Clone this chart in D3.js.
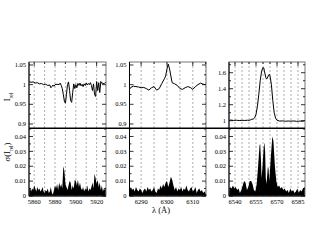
<!DOCTYPE html>
<html>
<head>
<meta charset="utf-8">
<script src="https://cdn.jsdelivr.net/npm/d3@7"></script>
<style>
body { margin: 0; background: #fff; }
text { font-family: "Liberation Serif", "DejaVu Serif", serif; fill: #000; }
</style>
</head>
<body>
<svg id="chart" width="317" height="245"></svg>
<script>
// Na D region
const naWave = [5855,5857,5859,5861,5863,5865,5867,5869,5871,5873,5875,5876,5877,5878,5879,5880,5882,5884,5885,5886,5887,5888,5889,5890,5891,5892,5893,5894,5895,5896,5897,5898,5899,5900,5901,5902,5903,5904,5905,5906,5907,5908,5909,5910,5911,5912,5913,5914,5915,5916,5917,5918,5919,5920,5921,5922,5923,5924,5925,5926,5927,5928,5929]
const naFlux = [1.008,1.006,1.007,1.004,1.005,1.002,1.003,1.000,1.001,0.998,0.999,0.992,0.995,0.999,0.996,1.000,1.001,1.000,1.004,0.998,0.990,0.975,0.958,0.953,0.975,1.000,1.007,0.985,0.960,0.955,0.980,1.002,0.990,1.000,0.992,1.003,0.998,1.004,0.997,1.001,0.995,1.002,0.998,1.004,0.999,1.003,1.000,1.005,0.998,0.985,1.002,0.975,0.970,1.008,0.985,1.005,0.980,1.008,1.003,1.004,1.002,1.005,1.006]
const naSigWave = d3.range(5855, 5930, 1)
const naSig = [0.004,0.006,0.003,0.005,0.004,0.007,0.005,0.003,0.006,0.004,0.005,0.003,0.004,0.006,0.003,0.002,0.004,0.003,0.005,0.002,0.003,0.006,0.002,0.001,0.004,0.007,0.005,0.008,0.004,0.009,0.006,0.008,0.005,0.020,0.017,0.008,0.006,0.004,0.007,0.010,0.009,0.004,0.007,0.005,0.011,0.010,0.007,0.011,0.006,0.009,0.005,0.004,0.006,0.003,0.005,0.004,0.007,0.003,0.005,0.004,0.006,0.009,0.005,0.015,0.012,0.008,0.011,0.006,0.009,0.004,0.007,0.003,0.005,0.004,0.006]

// [O I] 6300 region
const oiWave = [6285.5,6286,6287,6288,6289,6290,6291,6292,6293,6294,6295,6296,6297,6298,6299,6299.5,6300,6300.5,6301,6301.5,6302,6303,6304,6305,6306,6307,6308,6309,6310,6311,6312,6313,6314,6315]
const oiFlux = [0.988,0.993,0.996,0.995,0.994,0.992,0.993,0.990,0.986,0.992,0.995,0.986,0.990,1.003,1.015,1.022,1.040,1.052,1.040,1.022,1.005,1.002,0.998,0.990,0.988,0.992,0.995,0.993,0.988,0.995,1.000,1.004,1.001,1.000]
const oiSigWave = d3.range(6285.5, 6315.01, 0.5)
const oiSig = [0.003,0.006,0.004,0.005,0.003,0.006,0.004,0.003,0.005,0.004,0.002,0.004,0.005,0.003,0.006,0.004,0.005,0.003,0.004,0.006,0.003,0.002,0.005,0.004,0.007,0.005,0.008,0.006,0.009,0.010,0.006,0.009,0.013,0.011,0.007,0.004,0.006,0.003,0.005,0.004,0.006,0.003,0.005,0.004,0.007,0.004,0.003,0.005,0.006,0.003,0.004,0.006,0.002,0.004,0.005,0.003,0.004,0.002,0.003,0.002]

// H alpha region
const haWave = [6535.7,6537,6539,6541,6543,6545,6547,6549,6550,6551,6552,6553,6554,6555,6556,6557,6558,6559,6560,6560.5,6561,6562,6562.5,6563,6564,6564.5,6565,6566,6567,6568,6569,6570,6572,6574,6576,6578,6580,6582,6584,6586,6588,6590]
const haFlux = [1.005,1.008,1.003,1.006,1.002,1.005,1.003,1.006,1.004,1.010,1.018,1.020,1.035,1.08,1.18,1.33,1.50,1.62,1.665,1.66,1.62,1.54,1.52,1.53,1.57,1.58,1.56,1.45,1.25,1.10,1.03,1.005,0.995,0.998,0.993,0.996,0.994,0.997,0.992,0.995,0.993,1.000]
const haSigWave = [6535.7,6536.5,6537.5,6538.5,6539.5,6540.5,6541.5,6542.5,6543.5,6544.5,6545.5,6546.5,6547.5,6548.5,6549.5,6550.5,6551.5,6552.5,6553.5,6554.5,6555.5,6556.5,6557.5,6558,6558.5,6559,6559.5,6560.5,6561,6561.5,6562,6562.5,6563.5,6564,6564.5,6565.5,6566.5,6567,6567.5,6568.5,6569.5,6570.5,6571.5,6572.5,6573.5,6574.5,6575.5,6576.5,6577.5,6578.5,6579.5,6580.5,6581.5,6582.5,6583.5,6584.5,6585.5,6586.5,6587.5,6588.5,6590]
const haSig = [0.003,0.006,0.005,0.007,0.005,0.006,0.004,0.005,0.002,0.004,0.007,0.010,0.009,0.004,0.006,0.010,0.010,0.008,0.004,0.003,0.008,0.020,0.034,0.035,0.025,0.012,0.018,0.033,0.036,0.030,0.012,0.008,0.020,0.018,0.010,0.025,0.038,0.040,0.036,0.020,0.010,0.006,0.007,0.005,0.006,0.004,0.005,0.003,0.004,0.002,0.005,0.003,0.004,0.002,0.003,0.005,0.002,0.004,0.003,0.005,0.006]

const xDomains = [[5855, 5929], [6285.5, 6315.1], [6535.7, 6590]]
const xTickVals = [[5860,5880,5900,5920], [6290,6300,6310], [6540,6555,6570,6585]]
const xGridStep = [10, 5, 5]
const fluxDomains = [[0.889, 1.0576], [0.889, 1.0576], [0.905, 1.734]]
const fluxTicks = [[0.9,0.95,1,1.05], [0.9,0.95,1,1.05], [1,1.2,1.4,1.6]]
const fluxMinor = [0.025, 0.025, 0.1]
const sigTicks = [0, 0.01, 0.02, 0.03, 0.04]

const waves = [naWave, oiWave, haWave]
const fluxes = [naFlux, oiFlux, haFlux]
const sigWaves = [naSigWave, oiSigWave, haSigWave]
const sigs = [naSig, oiSig, haSig]

const svg = d3.select("#chart")
const panelX = [[29, 106], [129.5, 206], [229, 305]]
const topY = 62, midY = 128.3, botY = 196
const fs = "6.5px"

function fmt(v) {
  return v === 0 ? "0" : String(+v.toFixed(3))
}

for (let p = 0; p < 3; p++) {
  const [x0, x1] = panelX[p]
  const x = d3.scaleLinear().domain(xDomains[p]).range([x0, x1])
  const yTop = d3.scaleLinear().domain(fluxDomains[p]).range([midY, topY])
  const yBot = d3.scaleLinear().domain([0, 0.0455]).range([botY, midY])
  const g = svg.append("g")

  // dashed grid
  const grid = d3.range(Math.ceil(xDomains[p][0] / xGridStep[p]) * xGridStep[p], xDomains[p][1], xGridStep[p])
  g.selectAll(".grid").data(grid).enter().append("line")
    .attr("x1", d => x(d)).attr("x2", d => x(d))
    .attr("y1", topY).attr("y2", botY)
    .attr("stroke", "#999").attr("stroke-width", 0.8)
    .attr("stroke-dasharray", "2,2")

  // sigma area
  const sData = sigWaves[p].map((w, i) => [w, sigs[p][i]])
  g.append("path").datum(sData)
    .attr("d", d3.area().x(d => x(d[0])).y0(yBot(0)).y1(d => yBot(d[1])))
    .attr("fill", "#000")

  // flux line
  const fData = waves[p].map((w, i) => [w, fluxes[p][i]])
  g.append("path").datum(fData)
    .attr("d", d3.line().x(d => x(d[0])).y(d => yTop(d[1])))
    .attr("fill", "none").attr("stroke", "#000").attr("stroke-width", 1)

  // frame
  g.append("rect").attr("x", x0).attr("y", topY).attr("width", x1 - x0).attr("height", botY - topY)
    .attr("fill", "none").attr("stroke", "#777").attr("stroke-width", 1)
  g.append("line").attr("x1", x0).attr("x2", x0).attr("y1", topY).attr("y2", botY)
    .attr("stroke", "#000").attr("stroke-width", 1)
  g.append("line").attr("x1", x0).attr("x2", x1).attr("y1", botY).attr("y2", botY)
    .attr("stroke", "#000").attr("stroke-width", 1)

  // y ticks upper
  const upMinor = d3.range(fluxTicks[p][0] - fluxMinor[p], fluxDomains[p][1], fluxMinor[p])
    .filter(v => v > fluxDomains[p][0] && v < fluxDomains[p][1])
  upMinor.forEach(v => {
    const major = fluxTicks[p].some(t => Math.abs(t - v) < 1e-6)
    const len = major ? 4 : 2
    ;[[x0, len], [x1, -len]].forEach(([xx, l]) => {
      g.append("line").attr("x1", xx).attr("x2", xx + l).attr("y1", yTop(v)).attr("y2", yTop(v))
        .attr("stroke", "#000").attr("stroke-width", 0.8)
    })
  })
  g.selectAll(".ylu").data(fluxTicks[p]).enter().append("text")
    .attr("x", x0 - 3).attr("y", d => yTop(d)).attr("dy", "0.33em")
    .attr("text-anchor", "end").style("font-size", fs).text(fmt)

  // y ticks lower
  d3.range(0, 0.0451, 0.005).forEach(v => {
    const major = Math.abs(v / 0.01 - Math.round(v / 0.01)) < 1e-6
    const len = major ? 4 : 2
    ;[[x0, len], [x1, -len]].forEach(([xx, l]) => {
      g.append("line").attr("x1", xx).attr("x2", xx + l).attr("y1", yBot(v)).attr("y2", yBot(v))
        .attr("stroke", "#000").attr("stroke-width", 0.8)
    })
  })
  g.selectAll(".yll").data(sigTicks).enter().append("text")
    .attr("x", x0 - 3).attr("y", d => yBot(d)).attr("dy", "0.33em")
    .attr("text-anchor", "end").style("font-size", fs).text(fmt)

  // x ticks
  grid.forEach(v => {
    const major = xTickVals[p].includes(v)
    const len = major ? 4 : 2
    g.append("line").attr("x1", x(v)).attr("x2", x(v)).attr("y1", botY).attr("y2", botY - len)
      .attr("stroke", "#000").attr("stroke-width", 0.8)
    g.append("line").attr("x1", x(v)).attr("x2", x(v)).attr("y1", topY).attr("y2", topY + len)
      .attr("stroke", "#000").attr("stroke-width", 0.8)
  })
  g.selectAll(".xl").data(xTickVals[p]).enter().append("text")
    .attr("x", d => x(d)).attr("y", botY + 8)
    .attr("text-anchor", "middle").style("font-size", fs).text(d => d)
}

// divider between flux and sigma panels
svg.append("line").attr("x1", 29).attr("x2", 305).attr("y1", midY).attr("y2", midY)
  .attr("stroke", "#000").attr("stroke-width", 1.5)

// axis titles
const t1 = svg.append("text").attr("transform", "translate(10,97) rotate(-90)")
  .attr("text-anchor", "middle").style("font-size", "8.5px")
t1.append("tspan").text("I")
t1.append("tspan").attr("baseline-shift", "sub").style("font-size", "5.5px").text("rel")

const t2 = svg.append("text").attr("transform", "translate(10,152) rotate(-90)")
  .attr("text-anchor", "middle").style("font-size", "8.5px")
t2.append("tspan").text("σ(I")
t2.append("tspan").attr("baseline-shift", "sub").style("font-size", "5.5px").text("rel")
t2.append("tspan").text(")")

svg.append("text").attr("x", 161).attr("y", 213).attr("text-anchor", "middle")
  .style("font-size", "8.5px").text("λ (Å)")
</script>
</body>
</html>
